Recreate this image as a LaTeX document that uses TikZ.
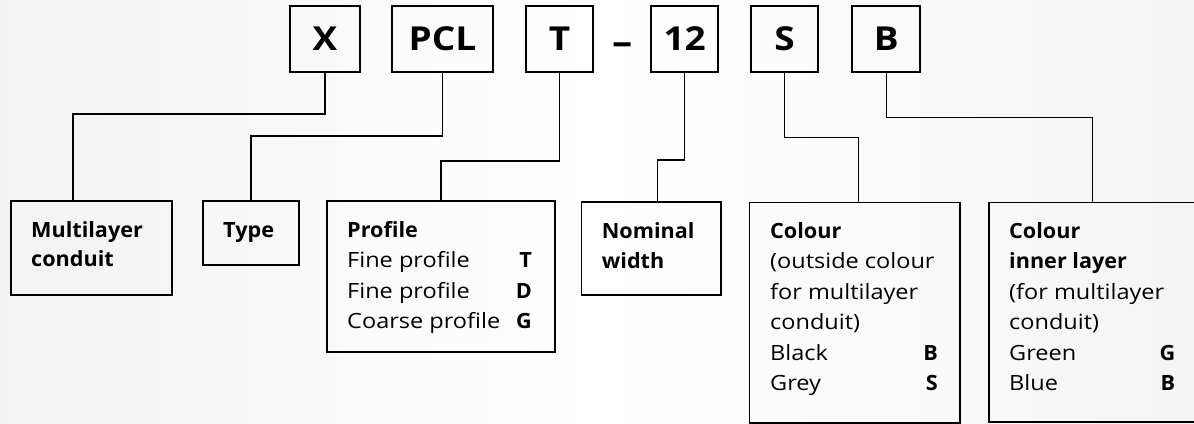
\documentclass[tikz,border=0pt]{standalone}
\usepackage{fontspec}
\setmainfont{Open Sans}[FakeStretch=1.12]
\newfontfamily\bfam{Open Sans}[FakeStretch=1.03]
\newfontfamily\topfont{Open Sans}[FakeStretch=1.12]
\newcommand\bt[1]{{\bfam\bfseries #1}}
\tikzset{
  topbox/.style={draw=black, line width=1.8pt, inner sep=0pt, minimum height=66.6pt, font=\topfont\fontsize{33}{36}\selectfont\bfseries},
  botbox/.style={draw=black, line width=1.6pt, inner sep=0pt, anchor=north west},
  txt/.style={inner sep=0pt, anchor=base west, font=\fontsize{21}{30.5}\selectfont},
  conn/.style={draw=black, line width=1.3pt}
}
\begin{document}
\begin{tikzpicture}[x=1pt,y=-1pt]
\useasboundingbox (0,0) rectangle (1194,423);
\fill[left color=black!5, right color=black!4, middle color=white] (0,0) rectangle (1194,423);
% top code boxes
\node[topbox, minimum width=70pt] (tX) at (325,39) {X};
\node[topbox, minimum width=101pt] (tPCL) at (442.5,39) {PCL};
\node[topbox, minimum width=67.6pt] (tT) at (559.5,39) {T};
\node[inner sep=0pt, anchor=base, font=\topfont\fontsize{36}{40}\selectfont\bfseries] (dash) at (623,54) {–};
\node[topbox, minimum width=67.3pt] (t12) at (684.7,39) {12};
\node[topbox, minimum width=67.6pt] (tS) at (784.5,39) {S};
\node[topbox, minimum width=67.7pt] (tB) at (886.2,39) {B};
% bottom boxes
\node[botbox, minimum width=161pt, minimum height=94pt] (bML) at (10,200) {};
\node[botbox, minimum width=96pt, minimum height=64pt] (bType) at (202,200) {};
\node[botbox, minimum width=228.3pt, minimum height=151pt] (bProf) at (326,200) {};
\node[botbox, minimum width=139.6pt, minimum height=93pt] (bNom) at (580.7,201) {};
\node[botbox, minimum width=210.3pt, minimum height=220.3pt] (bCol) at (748.7,201.7) {};
\node[botbox, minimum width=260pt, minimum height=219.3pt] (bIn) at (988.3,201.7) {};
% texts
\node[txt] (xML) at (31,237) {\begin{tabular}[t]{@{}l@{}}\bt{Multilayer}\\[-1.5pt]\bt{conduit}\end{tabular}};
\node[txt] (xType) at (223,237) {\bt{Type}};
\node[txt] (xProf) at (347,237) {\begin{tabular}[t]{@{}p{184.7pt}@{}}\bt{Profile}\\Fine profile\hfill\bt{T}\\Fine profile\hfill\bt{D}\\Coarse profile\hfill\bt{G}\end{tabular}};
\node[txt] (xNom) at (601.7,238) {\begin{tabular}[t]{@{}l@{}}\bt{Nominal}\\\bt{width}\end{tabular}};
\node[txt] (xCol) at (770,238) {\begin{tabular}[t]{@{}p{167.7pt}@{}}\bt{Colour}\\(outside colour\\for multilayer\\conduit)\\Black\hfill\bt{B}\\Grey\hfill\bt{S}\end{tabular}};
\node[txt] (xIn) at (1009,238) {\begin{tabular}[t]{@{}p{166pt}@{}}\bt{Colour}\\\bt{inner layer}\\(for multilayer\\conduit)\\Green\hfill\bt{G}\\Blue\hfill\bt{B}\end{tabular}};
% connectors
\draw[conn] (tX.south) -- ++(0,40.7) -| ([xshift=63pt]bML.north west);
\draw[conn] (tPCL.south) -- ++(0,62.7) -| ([xshift=49pt]bType.north west);
\draw[conn] (tT.south) -- ++(0,87.7) -| ([xshift=115pt]bProf.north west);
\draw[conn] (t12.south) -- ++(0,86.7) -| ([xshift=76.6pt]bNom.north west);
\draw[conn] (tS.south) -- ++(0,64.4) -| ([xshift=109.6pt]bCol.north west);
\draw[conn] (tB.south) -- ++(0,44) -| ([xshift=104pt]bIn.north west);
\end{tikzpicture}
\end{document}
